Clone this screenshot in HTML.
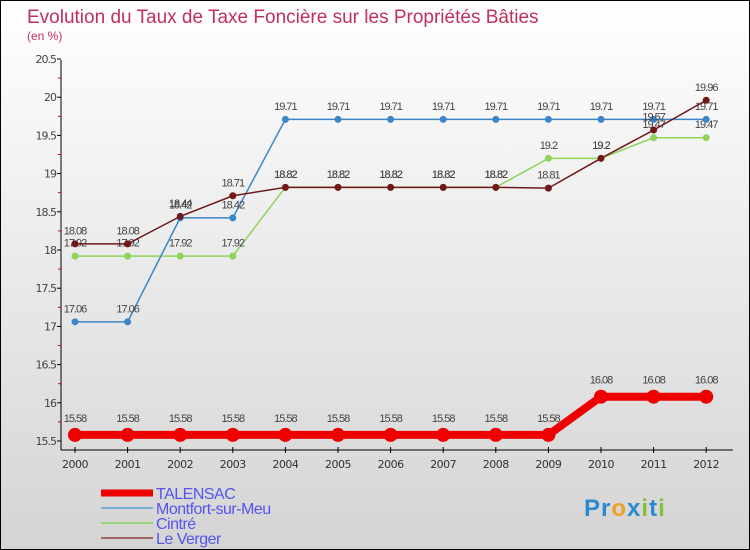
<!DOCTYPE html>
<html><head><meta charset="utf-8"><style>
body{margin:0}
#c{width:748px;height:548px;border:1px solid #000;background:linear-gradient(#fff,#d4d4d4);position:relative;font-family:"DejaVu Sans","Liberation Sans",sans-serif;overflow:hidden}
</style></head><body>
<div id="c">
<svg width="748" height="548" id="s"></svg>
</div>
<script>
const years=[2000,2001,2002,2003,2004,2005,2006,2007,2008,2009,2010,2011,2012];
const talensac=[15.58,15.58,15.58,15.58,15.58,15.58,15.58,15.58,15.58,15.58,16.08,16.08,16.08];
const montfort=[17.06,17.06,18.42,18.42,19.71,19.71,19.71,19.71,19.71,19.71,19.71,19.71,19.71];
const cintre=[17.92,17.92,17.92,17.92,18.82,18.82,18.82,18.82,18.82,19.2,19.2,19.47,19.47];
const verger=[18.08,18.08,18.44,18.71,18.82,18.82,18.82,18.82,18.82,18.81,19.2,19.57,19.96];
const yTicks=[15.5,16,16.5,17,17.5,18,18.5,19,19.5,20,20.5];
const s=document.getElementById('s');const NS='http://www.w3.org/2000/svg';
function X(i){return 74+i*52.6}
function Y(v){return 440-(v-15.5)*76.4}
function mk(t,a,p,name){const e=document.createElementNS(NS,t);for(const k in a)e.setAttribute(k,a[k]);


(p||s).appendChild(e);return e}
function tx(x,y,str,a,name){const e=mk('text',Object.assign({x:x,y:y},a),null,name);e.textContent=str;return e}
tx(26,22,'Evolution du Taux de Taxe Foncière sur les Propriétés Bâties',{fill:'#c0305a','font-size':19,'font-family':'Liberation Sans'},'chart-title');
tx(26,39,'(en %)',{fill:'#c0305a','font-size':12,'font-family':'Liberation Sans'},'y-unit');
mk('line',{x1:60,y1:59,x2:60,y2:449,stroke:'#000'},null,'y-axis');
mk('line',{x1:60,y1:449,x2:732,y2:449,stroke:'#000'},null,'x-axis');
yTicks.forEach((v,i)=>{mk('line',{x1:56,x2:60,y1:Y(v),y2:Y(v),stroke:'#000'},null,'y-tick');
if(i<yTicks.length-1)mk('line',{x1:57,x2:60,y1:Y(v+0.25),y2:Y(v+0.25),stroke:'#d00'},null,'y-minor-tick');
tx(55,Y(v)+4,String(v),{fill:'#444','font-size':11,'text-anchor':'end','letter-spacing':'-1'},'y-tick-label')});
years.forEach((y,i)=>{mk('line',{x1:X(i),x2:X(i),y1:446,y2:452,stroke:'#000'},null,'x-tick');
tx(X(i),467,String(y),{fill:'#333','font-size':11,'text-anchor':'middle','letter-spacing':'-0.5'},'x-tick-label')});
function series(d,col,w,r,name){
mk('polyline',{points:d.map((v,i)=>X(i)+','+Y(v)).join(' '),fill:'none',stroke:col,'stroke-width':w},null,name+'-line');
d.forEach((v,i)=>{mk('circle',{cx:X(i),cy:Y(v),r:r,fill:col},null,name+'-point');
tx(X(i),Y(v)-(r+6),String(v),{fill:'#444','font-size':11,'text-anchor':'middle','letter-spacing':'-1','font-family':'Liberation Sans'},name+'-value')});}
series(cintre,'#8ed45a',1.5,3.5,'cintre');
series(montfort,'#3a86c8',1.5,3.5,'montfort');
series(verger,'#6e1818',1.5,3.5,'le-verger');
series(talensac,'#ee0000',8,7,'talensac');
const leg=[['TALENSAC','#ee0000',7],['Montfort-sur-Meu','#7aaed0',2],['Cintré','#9ad47a',2],['Le Verger','#a06868',2]];
leg.forEach((l,i)=>{const y=492+i*15;mk('line',{x1:100,x2:152,y1:y,y2:y,stroke:l[1],'stroke-width':l[2]},null,'legend-swatch');
tx(155,y+6,l[0],{fill:'#5555ee','font-size':16,'letter-spacing':'-0.5','font-family':'Liberation Sans'},'legend-entry')});
const logo=tx(583,515,'',{'font-size':24,'font-weight':'bold','letter-spacing':'1','font-family':'Liberation Sans'},'logo');
[['P','#2a8ad0'],['r','#2a8ad0'],['o','#f0a020'],['x','#2a8ad0'],['i','#88c030'],['t','#2a8ad0'],['i','#88c030']].forEach(c=>{const t=document.createElementNS(NS,'tspan');t.setAttribute('fill',c[1]);t.textContent=c[0];logo.appendChild(t)});
</script>
</body></html>
